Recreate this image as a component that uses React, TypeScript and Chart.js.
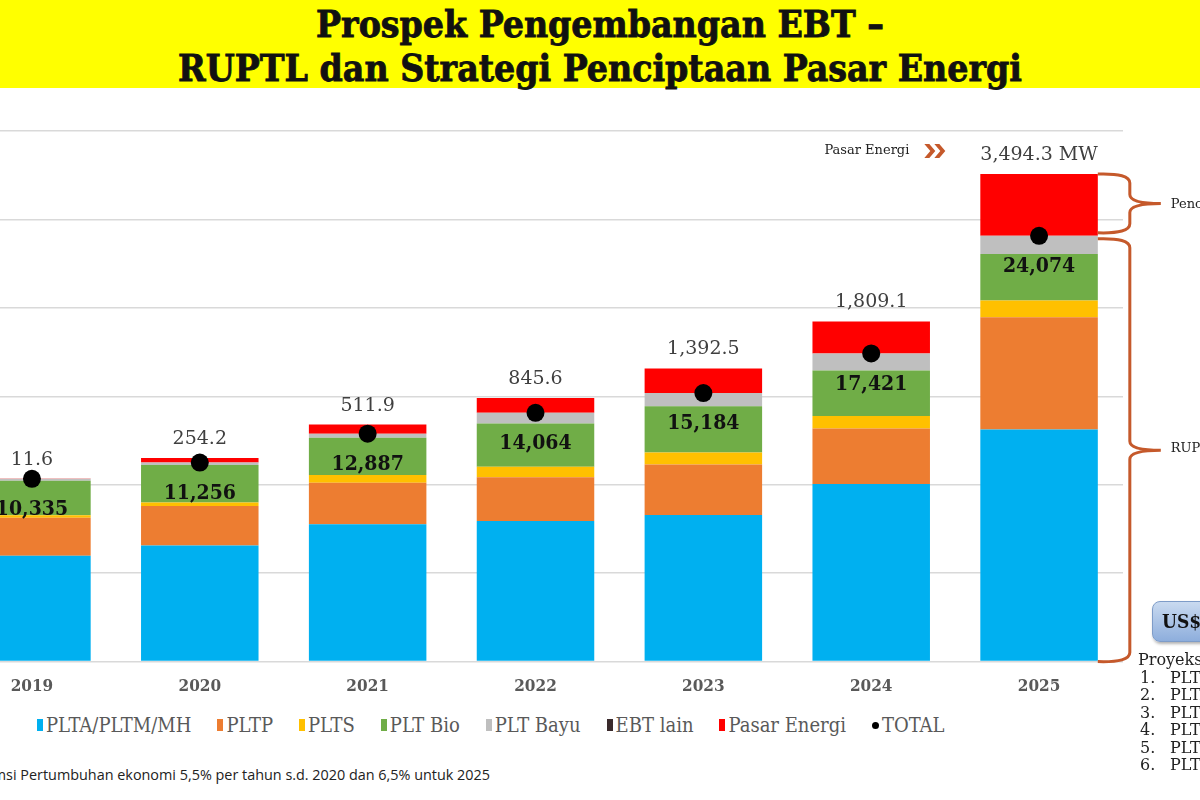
import { useEffect, useRef } from "react";
import { Chart, registerables } from "chart.js";

Chart.register(...registerables);

// Installed capacity per year (MW)
const years = ["2019", "2020", "2021", "2022", "2023", "2024", "2025"];
const pltaMw = [5980, 6560, 7770, 7950, 8290, 10040, 13120];
const pltpMw = [2160, 2240, 2345, 2480, 2860, 3140, 6350];
const pltsMw = [135, 190, 435, 580, 675, 710, 940];
const pltBioMw = [1950, 2120, 2100, 2450, 2610, 2575, 2635];
const pltBayuMw = [110, 146, 237, 604, 749, 956, 1029];
const ebtLainMw = [0, 0, 0, 0, 0, 0, 0];
const pasarEnergiMw = [11.6, 254.2, 511.9, 845.6, 1392.5, 1809.1, 3494.3];
const ruptlTotalMw = [10335, 11256, 12887, 14064, 15184, 17421, 24074];

const seriesNames = ["PLTA/PLTM/MH", "PLTP", "PLTS", "PLT Bio", "PLT Bayu", "EBT lain", "Pasar Energi", "TOTAL"];
const seriesColors = ["#00B0F0", "#ED7D31", "#FFC000", "#70AD47", "#BFBFBF", "#3A2A2C", "#FF0000", "#000000"];

const proyeksiItems = ["PLTP", "PLTA", "PLTS", "PLT Bio", "PLTSa", "PLT Bayu"];

const BRACE = "#C5592B";
const SERIF = "'DejaVu Serif'";
const SERIF_C = "'DejaVu Serif Condensed', 'DejaVu Serif'";

const fmtOne = (v: number) =>
  v.toLocaleString("en-US", { minimumFractionDigits: 1, maximumFractionDigits: 1 });
const fmtInt = (v: number) => v.toLocaleString("en-US", { maximumFractionDigits: 0 });

function drawBrace(ctx: CanvasRenderingContext2D, x0: number, y1: number, y2: number) {
  const xv = x0 + 32;
  const tip = x0 + 63;
  const mid = (y1 + y2) / 2;
  const r = 9;
  ctx.beginPath();
  ctx.moveTo(x0, y1);
  ctx.quadraticCurveTo(xv, y1 - 1, xv, y1 + r);
  ctx.lineTo(xv, mid - r);
  ctx.quadraticCurveTo(xv, mid, tip, mid);
  ctx.quadraticCurveTo(xv, mid, xv, mid + r);
  ctx.lineTo(xv, y2 - r);
  ctx.quadraticCurveTo(xv, y2 + 1, x0, y2);
  ctx.stroke();
}

const annotations = {
  id: "annotations",
  afterDatasetsDraw(chart: any) {
    const { ctx, scales } = chart;
    const y = scales.y;
    const redMeta = chart.getDatasetMeta(6);
    const last = years.length - 1;
    ctx.save();
    ctx.textAlign = "center";
    ctx.textBaseline = "middle";
    years.forEach((_, i) => {
      const bar = redMeta.data[i];
      const cx = bar.x;
      const top = bar.y;
      const ruptlY = y.getPixelForValue(ruptlTotalMw[i]);

      // Pasar Energi addition above each bar
      ctx.font = `19px ${SERIF}`;
      ctx.fillStyle = "#3f3f3f";
      const txt = fmtOne(pasarEnergiMw[i]) + (i === last ? " MW" : "");
      ctx.fillText(txt, cx, top - 19);

      // RUPTL total inside the PLT Bio segment
      ctx.font = `bold 21px ${SERIF_C}`;
      ctx.fillStyle = "#111111";
      ctx.fillText(fmtInt(ruptlTotalMw[i]), cx, ruptlY + 31);
    });

    // "Pasar Energi »" note next to the last bar
    const lastBar = redMeta.data[last];
    const left = lastBar.x - lastBar.width / 2;
    const right = lastBar.x + lastBar.width / 2;
    const noteY = lastBar.y - 23;
    ctx.font = `13px ${SERIF}`;
    ctx.fillStyle = "#222222";
    ctx.textAlign = "right";
    ctx.fillText("Pasar Energi", left - 71, noteY);
    ctx.fillStyle = BRACE;
    for (let k = 0; k < 2; k++) {
      const sx = left - 56 + k * 10;
      ctx.beginPath();
      ctx.moveTo(sx, noteY - 7);
      ctx.lineTo(sx + 5, noteY - 7);
      ctx.lineTo(sx + 11, noteY);
      ctx.lineTo(sx + 5, noteY + 7);
      ctx.lineTo(sx, noteY + 7);
      ctx.lineTo(sx + 6, noteY);
      ctx.closePath();
      ctx.fill();
    }

    // Braces grouping the 2025 bar
    const ruptlTop = y.getPixelForValue(ruptlTotalMw[last]);
    const base = y.getPixelForValue(0);
    ctx.strokeStyle = BRACE;
    ctx.lineWidth = 3;
    drawBrace(ctx, right, lastBar.y, ruptlTop - 3);
    drawBrace(ctx, right, ruptlTop + 3, base);

    ctx.font = `13px ${SERIF}`;
    ctx.fillStyle = "#222222";
    ctx.textAlign = "left";
    ctx.fillText("Penciptaan Pasar", right + 73, (lastBar.y + ruptlTop) / 2);
    ctx.fillText("RUPTL", right + 73, (ruptlTop + base) / 2);
    ctx.restore();
  },
};

export default function App() {
  const canvasRef = useRef<HTMLCanvasElement>(null);

  useEffect(() => {
    const canvas = canvasRef.current;
    if (!canvas) return;
    const stacks = [pltaMw, pltpMw, pltsMw, pltBioMw, pltBayuMw, ebtLainMw, pasarEnergiMw];
    const chart = new Chart(canvas, {
      type: "bar",
      data: {
        labels: years,
        datasets: [
          ...stacks.map((values, i) => ({
            type: "bar" as const,
            label: seriesNames[i],
            data: values,
            backgroundColor: seriesColors[i],
            borderWidth: 0,
            stack: "ebt",
            order: 1,
          })),
          {
            type: "line" as const,
            label: seriesNames[7],
            data: ruptlTotalMw,
            showLine: false,
            pointRadius: 9,
            pointBackgroundColor: seriesColors[7],
            pointBorderColor: seriesColors[7],
            pointBorderWidth: 0,
            stack: "total",
            order: 0,
          },
        ],
      },
      options: {
        responsive: false,
        animation: false,
        layout: { padding: { top: 31, right: 77, left: 0, bottom: 0 } },
        datasets: { bar: { categoryPercentage: 0.7, barPercentage: 1.0 } },
        plugins: { legend: { display: false }, tooltip: { enabled: false } },
        scales: {
          x: {
            stacked: true,
            grid: { display: false, drawTicks: false },
            border: { display: false },
            ticks: {
              padding: 15,
              color: "#595959",
              font: { family: SERIF_C, weight: "bold", size: 17 },
            },
          },
          y: {
            stacked: true,
            min: 0,
            max: 30000,
            ticks: { display: false, stepSize: 5000 },
            grid: { color: "#D9D9D9", lineWidth: 1.5, drawTicks: false },
            border: { display: false },
          },
        },
      },
      plugins: [annotations],
    } as any);
    return () => chart.destroy();
  }, []);

  return (
    <div style={{ position: "fixed", inset: 0, overflow: "hidden", background: "#ffffff" }}>
      <div
        style={{
          position: "absolute",
          left: 0,
          top: 0,
          width: 1200,
          height: 88,
          background: "#FFFF00",
          textAlign: "center",
          fontFamily: SERIF_C,
          fontWeight: "bold",
          fontSize: 37,
          lineHeight: "44px",
          color: "#111",
          WebkitTextStroke: "0.8px #111",
        }}
      >
        <div style={{ paddingTop: 2 }}>
          <div>Prospek Pengembangan EBT –</div>
          <div>RUPTL dan Strategi Penciptaan Pasar Energi</div>
        </div>
      </div>

      <canvas ref={canvasRef} width={1261} height={612} style={{ position: "absolute", left: -61, top: 100 }} />

      <div
        style={{
          position: "absolute",
          left: 37,
          top: 713,
          display: "flex",
          alignItems: "center",
          gap: 26,
          fontFamily: SERIF_C,
          fontSize: 20,
          color: "#595959",
          whiteSpace: "nowrap",
        }}
      >
        {seriesNames.map((name, i) => (
          <div key={name} style={{ display: "flex", alignItems: "center", gap: 3 }}>
            <span
              style={{
                display: "inline-block",
                width: i === 7 ? 7 : 6,
                height: i === 7 ? 7 : 12,
                borderRadius: i === 7 ? "50%" : 0,
                background: seriesColors[i],
              }}
            />
            <span>{name}</span>
          </div>
        ))}
      </div>

      <div
        style={{
          position: "absolute",
          right: 710,
          top: 765,
          fontFamily: "'Open Sans'",
          fontSize: 14.4,
          color: "#222",
          whiteSpace: "nowrap",
        }}
      >
        Asumsi Pertumbuhan ekonomi 5,5% per tahun s.d. 2020 dan 6,5% untuk 2025
      </div>

      <div
        style={{
          position: "absolute",
          left: 1152,
          top: 601,
          width: 90,
          height: 39,
          borderRadius: 8,
          border: "1px solid #7E9CC8",
          background: "linear-gradient(#C9DAF0, #8EAEDC)",
          boxShadow: "1px 2px 3px rgba(0,0,0,0.3)",
          fontFamily: SERIF_C,
          fontWeight: "bold",
          fontSize: 19,
          lineHeight: "39px",
          paddingLeft: 9,
          color: "#111",
        }}
      >
        US$
      </div>

      <div
        style={{
          position: "absolute",
          left: 1138,
          top: 651,
          fontFamily: SERIF,
          fontSize: 16,
          lineHeight: "17.5px",
          color: "#222",
          whiteSpace: "nowrap",
        }}
      >
        <div>Proyeksi Investasi</div>
        {proyeksiItems.map((item, i) => (
          <div key={item} style={{ display: "flex" }}>
            <span style={{ display: "inline-block", width: 30, paddingLeft: 2 }}>{i + 1}.</span>
            <span>{item}</span>
          </div>
        ))}
      </div>
    </div>
  );
}
